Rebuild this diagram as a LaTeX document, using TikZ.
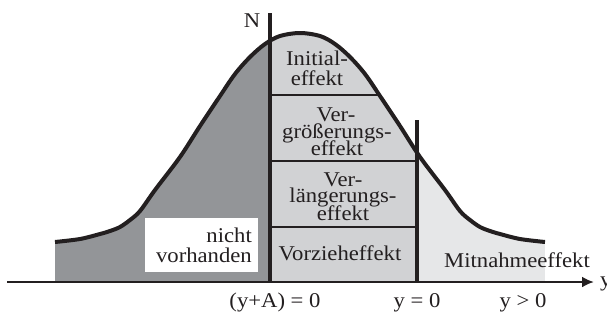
\documentclass[tikz,border=0pt]{standalone}
\usepackage{fontspec}
\setmainfont{Liberation Serif}[FakeStretch=1.08]
\usetikzlibrary{arrows.meta}
\definecolor{darkg}{HTML}{939598}
\definecolor{midg}{HTML}{D1D2D4}
\definecolor{lightg}{HTML}{E6E7E8}
\definecolor{ink}{HTML}{231F20}
\tikzset{
  lab/.style={font=\fontsize{21}{21}\selectfont, inner sep=0pt, anchor=base, text=ink},
  thickline/.style={draw=ink, line width=3.6pt},
  divider/.style={draw=ink, line width=1.8pt},
  bell/.style={draw=ink, line width=4pt},
}
\begin{document}
\begin{tikzpicture}[x=1pt,y=-1pt]
\useasboundingbox (0,0) rectangle (607,322);
% filled areas under the curve
\begin{scope}
\clip plot[smooth,tension=0.55] coordinates {(55,242) (80,239) (100,234) (110,231) (120,227) (130,220) (140,211) (155,190) (180,157) (200,126) (220,96) (235,74) (250,57) (265,44) (280,36) (300,33) (320,36) (335,44) (350,57) (365,74) (380,96) (400,126) (420,157) (445,190) (460,211) (470,220) (480,227) (490,231) (500,234) (520,239) (545,242)} -- (545,282) -- (55,282) -- cycle;
\fill[darkg] (0,0) rectangle (270,290);
\fill[midg] (270,0) rectangle (417,290);
\fill[lightg] (417,0) rectangle (545,290);
\draw[divider] (270,95) -- (420,95);
\end{scope}
\draw[divider] (270,161) -- (417,161);
\draw[divider] (270,227) -- (417,227);
% white label box
\fill[white] (145,218) rectangle (258,272);
% curve
\draw[bell] plot[smooth,tension=0.55] coordinates {(55,242) (80,239) (100,234) (110,231) (120,227) (130,220) (140,211) (155,190) (180,157) (200,126) (220,96) (235,74) (250,57) (265,44) (280,36) (300,33) (320,36) (335,44) (350,57) (365,74) (380,96) (400,126) (420,157) (445,190) (460,211) (470,220) (480,227) (490,231) (500,234) (520,239) (545,242)};
% axes
\coordinate (ax0) at (7,282);
\coordinate (ax1) at (594,282);
\coordinate (ntop) at (270,13);
\coordinate (nbot) at (270,282);
\coordinate (ytop) at (417,120);
\coordinate (ybot) at (417,282);
\draw[thickline] (ntop) -- (nbot);
\draw[thickline] (ytop) -- (ybot);
\draw[draw=ink, line width=2.4pt, -{Latex[length=12pt,width=11pt]}] (ax0) -- (ax1);
% labels
\node[lab] (N) at (252,27) {N};
\node[lab] (yax) [anchor=base west] at (600,286) {y};
\node[lab] (i1) at (317,65) {Initial-};
\node[lab] (i2) at (317,85) {effekt};
\node[lab] (g1) at (336,121) {Ver-};
\node[lab] (g2) at (337,138) {größerungs-};
\node[lab] (g3) at (337,155) {effekt};
\node[lab] (l1) at (343,186) {Ver-};
\node[lab] (l2) at (343,202) {längerungs-};
\node[lab] (l3) at (343,220) {effekt};
\node[lab] (vz) at (340,260) {Vorzieheffekt};
\node[lab] (mn) at (517,267) {Mitnahmeeffekt};
\node[lab] (nh1) [anchor=base east] at (252,242) {nicht};
\node[lab] (nh2) [anchor=base east] at (252,262) {vorhanden};
\node[lab] (b1) at (275,307) {(y+A) = 0};
\node[lab] (b2) at (417,307) {y = 0};
\node[lab] (b3) at (523,307) {y > 0};
\end{tikzpicture}
\end{document}
